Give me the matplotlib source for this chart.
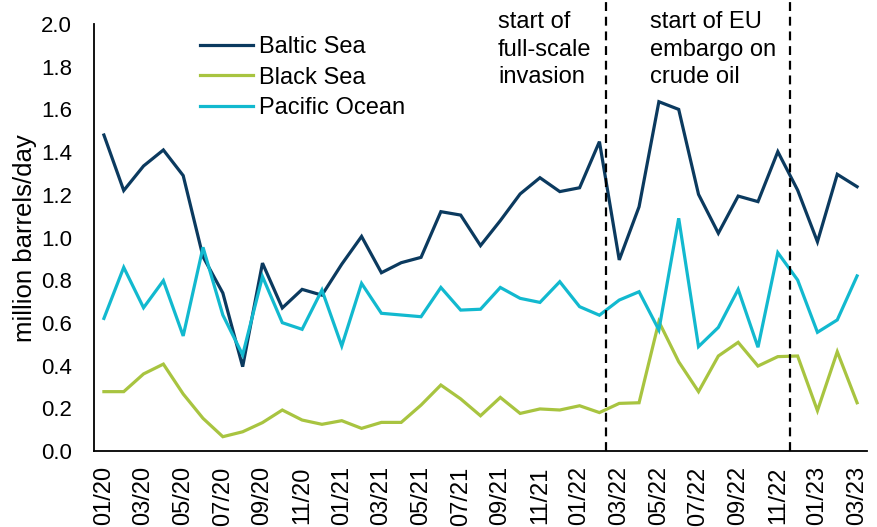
import matplotlib
matplotlib.use("Agg")
import matplotlib.pyplot as plt
import numpy as np
import pandas as pd

plt.rcParams['font.family'] = ['Liberation Sans', 'DejaVu Sans']

# monthly crude oil exports by route, million barrels/day
months = pd.date_range("2020-01-01", "2023-03-01", freq="MS")
month_labels = months.strftime("%m/%y")

baltic = [1.48, 1.22, 1.335, 1.41, 1.29, 0.91, 0.74, 0.395, 0.88, 0.67,
          0.757, 0.73, 0.875, 1.005, 0.835, 0.882, 0.907, 1.121, 1.105, 0.962,
          1.079, 1.204, 1.28, 1.215, 1.233, 1.449, 0.895, 1.144, 1.636, 1.60,
          1.202, 1.02, 1.194, 1.168, 1.402, 1.222, 0.98, 1.296, 1.238]
black_sea = [0.278, 0.278, 0.361, 0.407, 0.267, 0.153, 0.067, 0.09, 0.133, 0.192,
             0.145, 0.125, 0.142, 0.106, 0.134, 0.134, 0.215, 0.309, 0.244, 0.165,
             0.251, 0.176, 0.197, 0.192, 0.212, 0.18, 0.223, 0.226, 0.606, 0.418,
             0.278, 0.445, 0.509, 0.398, 0.442, 0.445, 0.189, 0.465, 0.226]
pacific = [0.621, 0.86, 0.671, 0.798, 0.539, 0.954, 0.637, 0.45, 0.817, 0.601,
           0.57, 0.754, 0.492, 0.785, 0.645, 0.637, 0.629, 0.766, 0.66, 0.664,
           0.766, 0.715, 0.696, 0.793, 0.676, 0.636, 0.707, 0.746, 0.567, 1.09,
           0.489, 0.579, 0.757, 0.486, 0.929, 0.801, 0.556, 0.614, 0.82]

series_names = ["Baltic Sea", "Black Sea", "Pacific Ocean"]
series_colors = ["#0b3a5f", "#a8c440", "#12b9cf"]

event_dates = pd.to_datetime(["2022-02-24", "2022-12-05"])
event_texts = ["start of\nfull-scale\ninvasion", "start of EU\nembargo on\ncrude oil"]


def date_to_pos(d):
    # points sit in the middle of each month slot
    idx = (d.year - months[0].year) * 12 + d.month - months[0].month
    return idx + (d.day - 1) / d.days_in_month - 0.5


fig = plt.figure(figsize=(8.78, 5.27), dpi=100)
ax = fig.add_axes([94 / 878, 1 - 451 / 527, (867 - 94) / 878, (451 - 24) / 527])

x = np.arange(len(months))
for vals, name, col in zip([baltic, black_sea, pacific], series_names, series_colors):
    ax.plot(x, vals, color=col, lw=2.3, label=name, solid_joinstyle='miter')

for d in event_dates:
    ax.axvline(date_to_pos(d), ymin=0, ymax=451 / 427, color='black', lw=1.6,
               dashes=(4, 2.6), clip_on=False)

ax.set_xlim(-0.5, len(months) - 0.5)
ax.set_ylim(0, 2.0)
ax.set_yticks(np.arange(0, 2.01, 0.2))
ax.set_yticklabels([f"{v:.1f}" for v in np.arange(0, 2.01, 0.2)])
ax.set_xticks(x[::2])
ax.set_xticklabels(month_labels[::2], rotation=90)
ax.tick_params(axis='both', length=0)
ax.tick_params(axis='y', labelsize=16, pad=16)
ax.tick_params(axis='x', labelsize=17, pad=11)

fig.text(25 / 878, 1 - 238 / 527, "million barrels/day", rotation=90,
         fontsize=18.5, va='center', ha='center')

for s in ['top', 'right']:
    ax.spines[s].set_visible(False)
for s in ['left', 'bottom']:
    ax.spines[s].set_linewidth(1.3)

leg = ax.legend(loc='upper left', bbox_to_anchor=(200 / 878, 1 - 36 / 527),
                bbox_transform=fig.transFigure, frameon=False, fontsize=17,
                handlelength=2.25, handletextpad=0.25, labelspacing=0.36,
                borderpad=0, borderaxespad=0)

fig.text(498 / 878, 1 - 11 / 527, event_texts[0], fontsize=17, va='top', ha='left',
         linespacing=1.33)
fig.text(650 / 878, 1 - 11 / 527, event_texts[1], fontsize=17, va='top', ha='left',
         linespacing=1.33)

fig.savefig("out.png", dpi=100)
